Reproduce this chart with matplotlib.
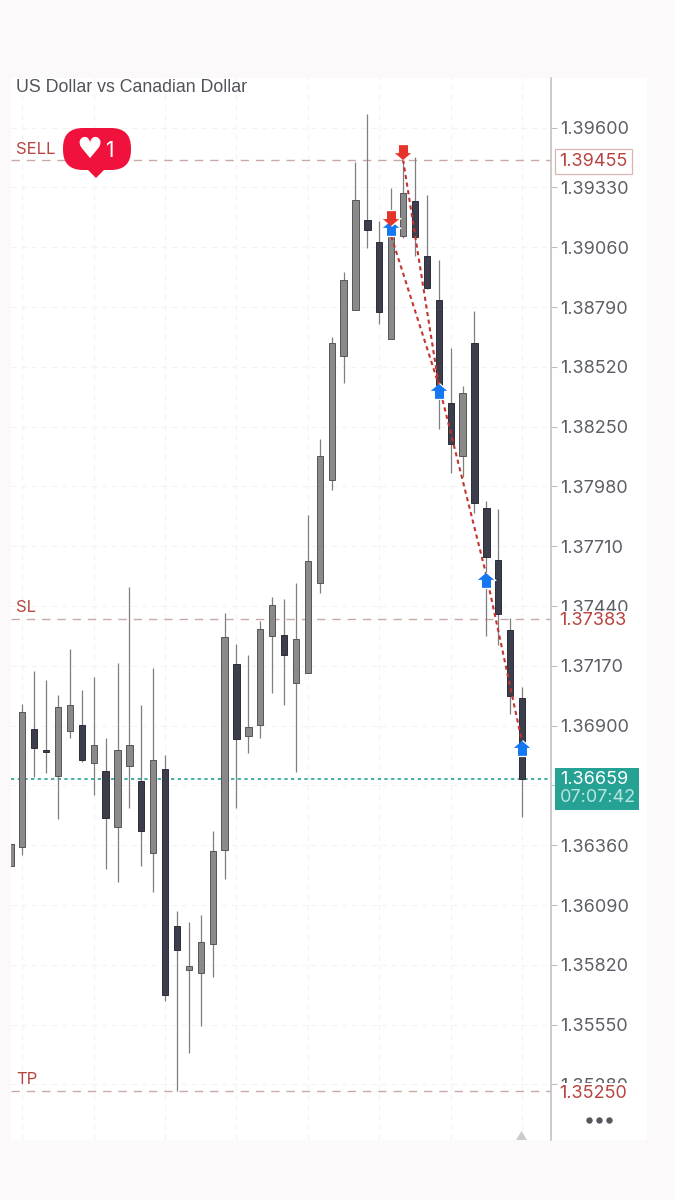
import matplotlib
matplotlib.use("Agg")
import matplotlib.pyplot as plt
from matplotlib.patches import Rectangle, FancyBboxPatch, Polygon

# candles, first one is cut off by the left edge
idx = list(range(-1, 43))
highs = [1.36365, 1.36997, 1.37146, 1.37106, 1.37038, 1.37247, 1.37062, 1.37119, 1.36845, 1.37183, 1.37527,
         1.36994, 1.37160, 1.36769, 1.36064, 1.36013, 1.36046, 1.36425, 1.37410, 1.37268, 1.37220, 1.37372,
         1.37481, 1.37472, 1.37544, 1.37851, 1.38194, 1.38654, 1.38949, 1.39446, 1.39661, 1.39178, 1.39327,
         1.39454, 1.39469, 1.39296, 1.39002, 1.38605, 1.38435, 1.38773, 1.37914, 1.37879, 1.37386, 1.37076]
tops = [1.36365, 1.36963, 1.36885, 1.36790, 1.36984, 1.36994, 1.36903, 1.36814, 1.36696, 1.36790, 1.36814,
        1.36650, 1.36745, 1.36704, 1.35995, 1.35815, 1.35924, 1.36334, 1.37300, 1.37178, 1.36894, 1.37336,
        1.37444, 1.37310, 1.37291, 1.37643, 1.38118, 1.38627, 1.38912, 1.39274, 1.39183, 1.39083, 1.39124,
        1.39305, 1.39268, 1.39022, 1.38821, 1.38356, 1.38403, 1.38629, 1.37882, 1.37648, 1.37333, 1.37025]
bottoms = [1.36266, 1.36353, 1.36800, 1.36781, 1.36672, 1.36876, 1.36745, 1.36731, 1.36483, 1.36443, 1.36718,
           1.36424, 1.36326, 1.35685, 1.35887, 1.35798, 1.35784, 1.35915, 1.36338, 1.36841, 1.36853, 1.36904,
           1.37306, 1.37219, 1.37092, 1.37139, 1.37544, 1.38009, 1.38570, 1.38776, 1.39138, 1.38767, 1.38647,
           1.39110, 1.39106, 1.38876, 1.38438, 1.38171, 1.38117, 1.37906, 1.37663, 1.37405, 1.37035, 1.36660]
lows = [1.36266, 1.36316, 1.36669, 1.36687, 1.36480, 1.36845, 1.36736, 1.36587, 1.36251, 1.36195, 1.36529,
        1.36267, 1.36149, 1.35656, 1.35251, 1.35422, 1.35545, 1.35765, 1.36207, 1.36529, 1.36776, 1.36845,
        1.37047, 1.36993, 1.36692, 1.37139, 1.37499, 1.37964, 1.38447, 1.38776, 1.39058, 1.38714, 1.38647,
        1.39103, 1.39022, 1.38871, 1.38239, 1.38040, 1.38022, 1.37860, 1.37306, 1.37264, 1.36952, 1.36489]
down = [0, 0, 1, 1, 0, 0, 1, 0, 1, 0, 0, 1, 0, 1, 1, 0, 0, 0, 0, 1, 0, 0, 0, 1, 0, 0, 0, 0, 0, 0, 1, 1, 0,
        0, 1, 1, 1, 1, 0, 1, 1, 1, 1, 1]

price_ticks = [1.39600, 1.39330, 1.39060, 1.38790, 1.38520, 1.38250, 1.37980, 1.37710, 1.37440,
               1.37170, 1.36900, 1.36630, 1.36360, 1.36090, 1.35820, 1.35550, 1.35280]
sell_price = 1.39455
sl_price = 1.37383
tp_price = 1.35250
last_price = 1.36659

# trades: red arrows are sells, blue arrows are closes
sell_x = [31, 32]
sell_y = [1.39191, 1.39489]
buy_x = [31, 35, 39, 42]
buy_y = [1.39146, 1.38410, 1.37557, 1.36798]
trade_x = [[32, 35], [31, 35], [35, 39], [39, 42]]
trade_y = [[1.39455, 1.38438], [1.39110, 1.38438], [1.38438, 1.37579], [1.37579, 1.36825]]

W, H = 675, 1200
RED = "#b8433f"
GREY_TXT = "#5c5f66"
TEAL = "#26a295"
LABEL_SIZE = 13

plt.rcParams["font.family"] = ["Inter", "DejaVu Sans"]
fig = plt.figure(figsize=(W / 100, H / 100), dpi=100, facecolor="#fbf9f9")
fig.add_artist(Rectangle((11 / W, 60 / H), 636 / W, 1062 / H, transform=fig.transFigure,
                         facecolor="white", edgecolor="none", zorder=-1))

ax = fig.add_axes([11 / W, 60 / H, 540 / W, 1062 / H])
ax.set_xlim(-0.95, 44.43)
ax.set_ylim(1.35029, 1.39824)
ax.set_xticks(range(0, 43, 6))
ax.set_xticklabels([])
ax.set_yticks(price_ticks)
ax.set_yticklabels(["%.5f" % p for p in price_ticks])
ax.yaxis.tick_right()
ax.tick_params(axis="x", length=0)
ax.tick_params(axis="y", length=4, width=0.8, color="#bdbdbd", pad=2.5, labelsize=LABEL_SIZE, labelcolor=GREY_TXT)
ax.grid(True, color="#f3f3f3", lw=0.8, ls=(0, (5, 4)))
ax.set_axisbelow(True)
for s in ["top", "left", "bottom"]:
    ax.spines[s].set_visible(False)
ax.spines["right"].set_color("#bdbdbd")
ax.spines["right"].set_linewidth(1.1)

for price in [sell_price, sl_price, tp_price]:
    ax.axhline(price, color="#c9a9a6", lw=1, ls=(0, (6, 5)), zorder=1.5)
ax.axhline(last_price, color=TEAL, lw=1.2, ls=(0, (2, 2)), zorder=1.5)

for i in range(len(idx)):
    if down[i]:
        fill, edge = "#3d3e4b", "#2c2d38"
    else:
        fill, edge = "#8a8a8a", "#565656"
    ax.vlines(idx[i], lows[i], highs[i], color="#7f7f7f", lw=0.9, zorder=2)
    ax.bar(idx[i], tops[i] - bottoms[i], bottom=bottoms[i], width=0.53, color=fill,
           edgecolor=edge, linewidth=0.7, zorder=3)

for tx, ty in zip(trade_x, trade_y):
    ax.plot(tx, ty, color="#c1352f", lw=1.5, ls=(0, (2, 1.7)), zorder=4)

up_arrow = [(0, 0.85), (1, 0), (0.55, 0), (0.55, -0.85), (-0.55, -0.85), (-0.55, 0), (-1, 0)]
down_arrow = [(x, -y) for x, y in up_arrow]
ax.plot(buy_x, buy_y, ls="none", marker=up_arrow, ms=13.5, mfc="#1677f2", mec="white", mew=0.9, zorder=5)
ax.plot(sell_x, sell_y, ls="none", marker=down_arrow, ms=13.5, mfc="#e5352b", mec="white", mew=0.9, zorder=5)

# right hand price labels sit on top of the tick labels
ytrans = ax.get_yaxis_transform()
ax.text(1.0155, sl_price, "%.5f" % sl_price, transform=ytrans, color=RED, fontsize=LABEL_SIZE,
        va="center_baseline", zorder=6, clip_on=False, bbox=dict(facecolor="white", edgecolor="none", pad=1))
ax.text(1.0155, tp_price, "%.5f" % tp_price, transform=ytrans, color=RED, fontsize=LABEL_SIZE,
        va="center_baseline", zorder=6, clip_on=False, bbox=dict(facecolor="white", edgecolor="none", pad=1))
ax.text(1.0155, sell_price, "%.5f" % sell_price, transform=ytrans, color=RED, fontsize=LABEL_SIZE,
        va="center_baseline", zorder=6, clip_on=False, bbox=dict(facecolor="white", edgecolor="#dcb4b0", lw=0.9, pad=3))

# overlay in pixel coordinates for the badge and the text around the plot
over = fig.add_axes([0, 0, 1, 1], facecolor="none")
over.set_xlim(0, W)
over.set_ylim(H, 0)
over.axis("off")

over.text(16, 87, "US Dollar vs Canadian Dollar", family="Liberation Sans", fontsize=12.75, color="#50535a",
          va="center")
over.text(16, 149, "SELL", color=RED, fontsize=12, va="center")
over.text(16, 608, "SL", color=RED, fontsize=12, va="center")
over.text(16, 1080, "TP", color=RED, fontsize=12, va="center")

# like badge
over.add_patch(FancyBboxPatch((63 + 20, 128 + 20), 68 - 40, 42 - 40, boxstyle="round,pad=20,rounding_size=20",
                              facecolor="#f0123c", edgecolor="none", zorder=7))
over.add_patch(Polygon([(86, 168), (106, 168), (96, 178)], facecolor="#f0123c", edgecolor="none", zorder=7))
over.text(89.5, 150, "\u2665", family="DejaVu Sans", fontsize=21, color="white", ha="center", va="center", zorder=8)
over.text(109.5, 151, "1", color="white", fontsize=15, ha="center", va="center", zorder=8)

# current price box
over.add_patch(Rectangle((555, 768), 84, 42, facecolor=TEAL, edgecolor="none", zorder=7))
over.text(560, 779, "%.5f" % last_price, color="white", fontsize=LABEL_SIZE, va="center", zorder=8)
over.text(560, 798, "07:07:42", color="#b6e6e0", fontsize=LABEL_SIZE, va="center", zorder=8)

# bottom marker and menu dots
over.add_patch(Polygon([(516, 1140), (527, 1140), (521.5, 1131)], facecolor="#cbcbcb", edgecolor="none"))
over.plot([589, 599, 609], [1120, 1120, 1120], ls="none", marker="o", ms=3.6, color="#55585f")

fig.savefig("out.png", dpi=100, facecolor=fig.get_facecolor())
